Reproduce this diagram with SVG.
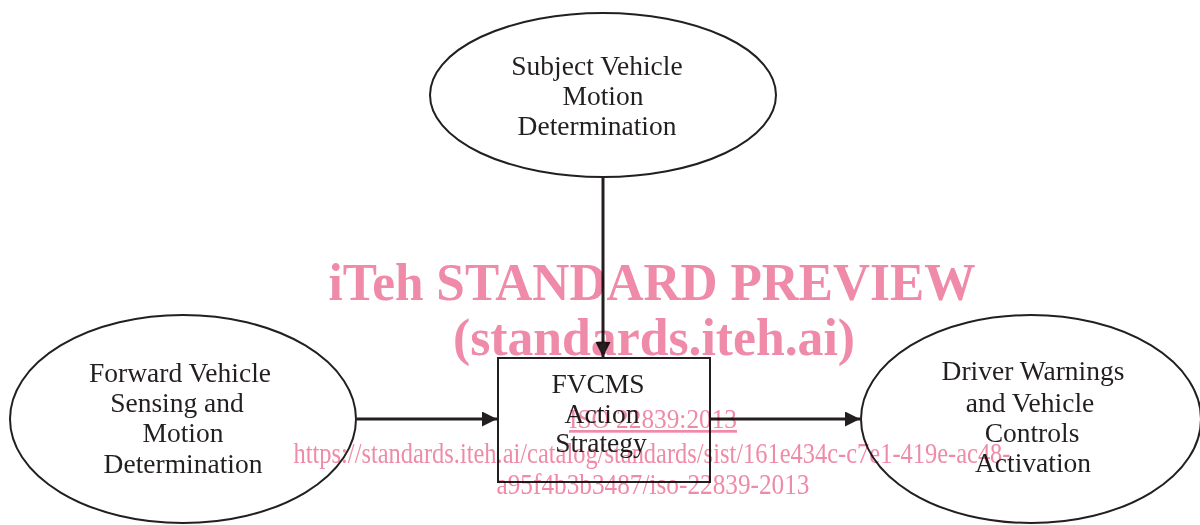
<svg xmlns="http://www.w3.org/2000/svg" width="1200" height="525" viewBox="0 0 1200 525">
<style>
.shape{fill:#fff;stroke:#231f20;stroke-width:2}
.lbl{font-family:"Liberation Serif","DejaVu Serif",serif;font-size:27.5px;fill:#231f20;text-anchor:middle}
.conn{stroke:#231f20;stroke-width:3;fill:none}
.wm{fill:#ef8aa9;font-family:"Liberation Serif",serif;text-anchor:middle}
</style>
<defs>
<marker id="arr" viewBox="0 0 10 10" refX="10" refY="5" markerWidth="6" markerHeight="5" markerUnits="strokeWidth" orient="auto">
<path d="M0,0 L10,5 L0,10 Z" fill="#231f20"/>
</marker>
</defs>
<rect width="1200" height="525" fill="#fff"/>
<g id="node-subject">
<ellipse class="shape" cx="603" cy="95" rx="173" ry="82"/>
<text class="lbl" x="597" y="75">Subject Vehicle</text>
<text class="lbl" x="603" y="105">Motion</text>
<text class="lbl" x="597" y="135">Determination</text>
</g>
<g id="node-forward">
<ellipse class="shape" cx="183" cy="419" rx="173" ry="104"/>
<text class="lbl" x="180" y="382">Forward Vehicle</text>
<text class="lbl" x="177" y="412">Sensing and</text>
<text class="lbl" x="183" y="442">Motion</text>
<text class="lbl" x="183" y="473">Determination</text>
</g>
<g id="node-fvcms">
<rect class="shape" x="498" y="358" width="212" height="124"/>
<text class="lbl" x="598" y="393">FVCMS</text>
<text class="lbl" x="602" y="423">Action</text>
<text class="lbl" x="601" y="452">Strategy</text>
</g>
<g id="node-driver">
<ellipse class="shape" cx="1031" cy="419" rx="170" ry="104"/>
<text class="lbl" x="1033" y="380">Driver Warnings</text>
<text class="lbl" x="1030" y="412">and Vehicle</text>
<text class="lbl" x="1032" y="442">Controls</text>
<text class="lbl" x="1033" y="472">Activation</text>
</g>
<g id="connectors">
<line class="conn" x1="603" y1="177" x2="603" y2="357" marker-end="url(#arr)"/>
<line class="conn" x1="357" y1="419" x2="497" y2="419" marker-end="url(#arr)"/>
<line class="conn" x1="710" y1="419" x2="860" y2="419" marker-end="url(#arr)"/>
</g>
<g id="watermark" style="mix-blend-mode:multiply">
<text class="wm" x="652" y="300" font-size="53" font-weight="bold" textLength="647" lengthAdjust="spacingAndGlyphs">iTeh STANDARD PREVIEW</text>
<text class="wm" x="654" y="355" font-size="53" font-weight="bold" textLength="402" lengthAdjust="spacingAndGlyphs">(standards.iteh.ai)</text>
<text class="wm" x="653" y="428" font-size="27" text-decoration="underline" textLength="168" lengthAdjust="spacingAndGlyphs">ISO 22839:2013</text>
<text class="wm" x="652" y="463" font-size="28.5" textLength="717" lengthAdjust="spacingAndGlyphs">https://standards.iteh.ai/catalog/standards/sist/161e434c-c7e1-419e-ac48-</text>
<text class="wm" x="653" y="494" font-size="28.5" textLength="313" lengthAdjust="spacingAndGlyphs">a95f4b3b3487/iso-22839-2013</text>
</g>
</svg>
